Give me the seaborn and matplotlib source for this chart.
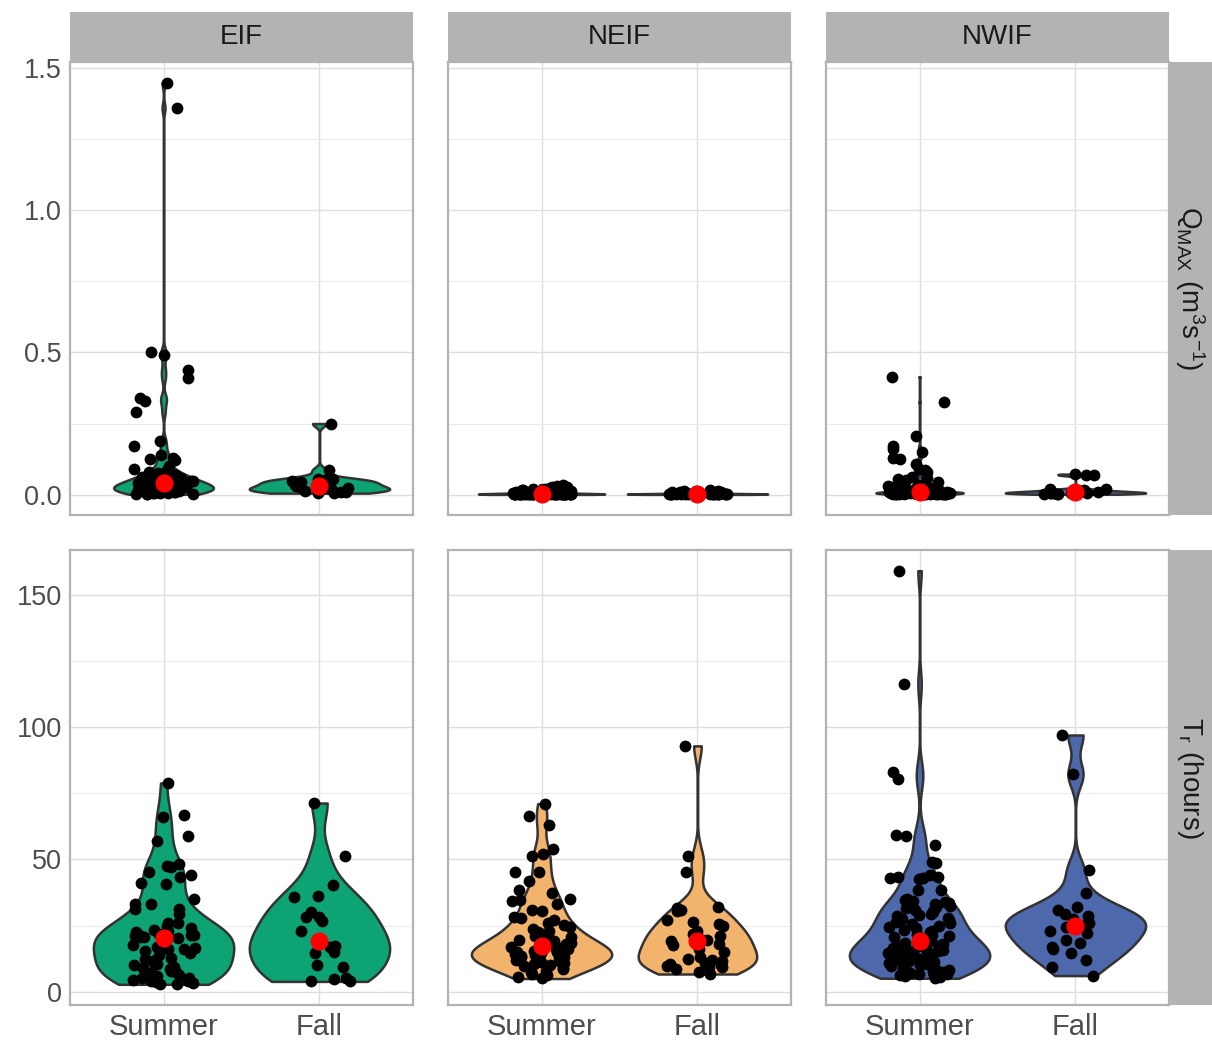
import numpy as np
import pandas as pd
import matplotlib.pyplot as plt
import seaborn as sns
from matplotlib.ticker import MultipleLocator, FormatStrFormatter

# ==========================================
# Data
# ==========================================
sites = ["EIF", "NEIF", "NWIF"]
seasons = ["Summer", "Fall"]
site_colors = ["#0DA375", "#F2B36D", "#4E68AC"]

# peak discharge Q_MAX (m3/s)
qmax_eif_summer = [1.45, 1.36, 0.50, 0.49, 0.44, 0.41, 0.34, 0.33, 0.29, 0.19, 0.17, 0.14,
                   0.13, 0.125, 0.12, 0.10, 0.09, 0.085, 0.08,
                   0.075, 0.07, 0.068, 0.065, 0.062, 0.06, 0.058, 0.055, 0.053, 0.05, 0.048,
                   0.046, 0.045, 0.043, 0.042, 0.04, 0.039,
                   0.037, 0.035, 0.034, 0.032, 0.031, 0.03, 0.028, 0.027, 0.026, 0.025, 0.024,
                   0.022, 0.021, 0.02, 0.019, 0.018, 0.017, 0.016, 0.015, 0.014, 0.013, 0.012,
                   0.011, 0.01, 0.009, 0.008, 0.007, 0.006, 0.005, 0.004, 0.003, 0.003, 0.002, 0.001]
qmax_eif_fall = [0.25, 0.085, 0.055, 0.055, 0.05, 0.048, 0.045, 0.043, 0.04, 0.035, 0.03,
                 0.027, 0.025, 0.022, 0.02, 0.018, 0.015, 0.012, 0.01, 0.008, 0.006, 0.005]
qmax_neif_summer = [0.035, 0.03, 0.028, 0.025, 0.022, 0.02, 0.018, 0.016, 0.015, 0.014, 0.013,
                    0.012, 0.011, 0.01, 0.01, 0.009, 0.009, 0.008, 0.008, 0.007, 0.007, 0.006,
                    0.006, 0.006, 0.005, 0.005, 0.005, 0.005, 0.004, 0.004, 0.004, 0.004, 0.004,
                    0.003, 0.003, 0.003, 0.003, 0.003, 0.003, 0.003, 0.003,
                    0.002, 0.002, 0.002, 0.002, 0.002, 0.002, 0.002, 0.002, 0.002, 0.002, 0.002, 0.002,
                    0.001, 0.001, 0.001, 0.001, 0.001, 0.001, 0.001, 0.001, 0.001, 0.001, 0.001, 0.001,
                    0.0005, 0.0005, 0.0005, 0.0005, 0.0005]
qmax_neif_fall = [0.015, 0.014, 0.012, 0.011, 0.01, 0.009, 0.008, 0.007, 0.006, 0.005, 0.005,
                  0.004, 0.004, 0.003, 0.003, 0.003, 0.003, 0.0025,
                  0.002, 0.002, 0.002, 0.002, 0.002, 0.002, 0.0015, 0.0015, 0.0015, 0.0015,
                  0.001, 0.001, 0.001, 0.001, 0.0005, 0.0005, 0.0005]
qmax_nwif_summer = [0.415, 0.325, 0.205, 0.17, 0.16, 0.15, 0.13, 0.126, 0.108, 0.09, 0.085,
                    0.079, 0.063, 0.06, 0.055, 0.05, 0.045, 0.04, 0.038, 0.035, 0.032, 0.03,
                    0.028, 0.026, 0.024, 0.022, 0.02, 0.019, 0.018, 0.017, 0.016, 0.015, 0.014,
                    0.013, 0.012, 0.012, 0.011, 0.011, 0.01, 0.01, 0.01, 0.01, 0.009, 0.009,
                    0.009, 0.009, 0.009, 0.008, 0.008, 0.008,
                    0.008, 0.008, 0.007, 0.007, 0.007, 0.007, 0.007, 0.007, 0.007, 0.007,
                    0.006, 0.006, 0.006, 0.006, 0.006, 0.006, 0.006, 0.006,
                    0.005, 0.005, 0.005, 0.005, 0.005, 0.005, 0.005, 0.005,
                    0.004, 0.004, 0.004, 0.004, 0.004, 0.004, 0.004, 0.004,
                    0.003, 0.003, 0.003, 0.003, 0.003, 0.003,
                    0.002, 0.002, 0.002, 0.002, 0.002,
                    0.001, 0.001, 0.001, 0.001, 0.001]
qmax_nwif_fall = [0.072, 0.07, 0.068, 0.02, 0.018, 0.015, 0.013, 0.012, 0.011, 0.01, 0.009,
                  0.008, 0.007, 0.006, 0.006, 0.005, 0.005, 0.004, 0.003, 0.003, 0.002, 0.001]

# rise time T_r (hours)
tr_eif_summer = [78.9, 66.9, 65.9, 58.8, 56.8, 48.2, 47.6, 47.0, 45.1, 44.1, 43.2, 41.0, 40.7,
                 35.0, 33.1, 33.1, 31.2, 31.2, 29.3, 26.1, 26.1, 25.0, 24.2, 23.5, 23.0, 22.4,
                 22.0, 21.7, 21.5, 21.4, 21.2, 21.0, 20.8, 20.6, 20.4, 20.2, 20.0,
                 17.9, 17.5, 17.0, 16.6, 16.0, 16.0, 15.4, 14.6, 13.8, 12.9, 12.5, 11.8, 11.0,
                 10.4, 10.0, 9.5, 9.0, 8.5, 8.0, 7.6, 7.0, 6.6, 6.2, 5.8, 5.3, 5.0, 4.6, 4.2,
                 3.9, 3.6, 3.3, 3.0, 2.8]
tr_eif_fall = [71.3, 51.1, 40.2, 36.0, 35.7, 30.0, 28.2, 28.2, 26.9, 23.1, 19.1, 19.1, 17.0,
               17.1, 15.2, 14.5, 10.1, 9.2, 4.2, 4.8, 3.9, 5.2]
tr_neif_summer = [71.1, 66.3, 62.9, 54.0, 52.1, 51.1, 45.1, 45.1, 42.0, 38.3, 37.3, 35.0, 34.6,
                  34.2, 33.3, 30.7, 30.5, 28.4, 28.0, 27.0, 26.0, 25.2, 24.5, 23.8, 23.0, 22.4,
                  21.8, 21.2, 20.6, 20.0, 19.5, 19.0, 18.5, 18.0, 17.3, 16.9,
                  16.5, 16.2, 16.0, 15.7, 15.5, 15.2, 15.0, 14.8, 14.5, 14.3, 14.0, 13.8, 13.6,
                  13.4, 13.2, 13.0, 12.7, 12.4, 12.1, 11.8, 11.5, 11.2, 10.8, 10.4, 10.0, 9.6,
                  9.1, 8.6, 8.0, 7.4, 6.8, 6.2, 5.6, 5.0]
tr_neif_fall = [92.9, 51.1, 45.1, 32.0, 31.5, 31.0, 30.5, 27.0, 26.5, 25.5, 25.0, 23.1, 22.0,
                21.0, 20.1, 19.8, 19.5, 19.3, 18.0, 17.5, 16.2, 15.0, 13.0, 12.5, 12.0, 11.5,
                11.0, 10.5, 10.0, 9.8, 9.5, 9.2, 8.5, 7.5, 6.7]
tr_nwif_summer = [159.1, 116.2, 83.1, 80.2, 59.1, 59.0, 55.3, 49.0, 48.8, 44.0, 43.5, 43.2,
                  43.0, 42.8, 42.5, 38.6, 38.4, 35.0, 34.6, 34.3, 34.0, 33.5, 33.0, 32.5, 32.0,
                  31.5, 31.0, 30.5, 30.0, 29.5, 29.0, 28.5, 28.0, 27.5, 27.0, 26.5, 26.0, 25.5,
                  25.0, 24.5, 24.0, 23.5, 23.0, 22.5, 22.0, 21.5, 21.0, 20.5, 20.0, 19.5,
                  18.8, 18.5, 18.2, 18.0, 17.7, 17.4, 17.1, 16.8, 16.5, 16.3, 16.0, 15.8, 15.5,
                  15.3, 15.0, 14.8, 14.5, 14.3, 14.0, 13.8, 13.5, 13.2, 13.0, 12.7, 12.4, 12.1,
                  11.8, 11.5, 11.2, 10.9, 10.6, 10.3, 10.0, 9.7, 9.4, 9.1, 8.8, 8.5, 8.2, 7.9,
                  7.6, 7.3, 7.0, 6.8, 6.6, 6.4, 6.2, 6.0, 5.6, 5.1]
tr_nwif_fall = [97.0, 82.1, 46.1, 37.2, 32.0, 31.0, 29.5, 28.5, 27.3, 26.0, 25.5, 24.5, 23.0,
                22.1, 19.5, 18.5, 17.0, 16.0, 14.5, 12.0, 9.2, 6.1]

row_labels = [r"$\mathregular{Q_{MAX}\ (m^{3}s^{-1})}$", r"$\mathregular{T_{r}\ (hours)}$"]
row_ticks = [[0, 0.5, 1.0, 1.5], [0, 50, 100, 150]]
row_minor = [0.25, 25]
row_fmt = ["%.1f", "%d"]

data = {
    0: {"EIF": {"Summer": qmax_eif_summer, "Fall": qmax_eif_fall},
        "NEIF": {"Summer": qmax_neif_summer, "Fall": qmax_neif_fall},
        "NWIF": {"Summer": qmax_nwif_summer, "Fall": qmax_nwif_fall}},
    1: {"EIF": {"Summer": tr_eif_summer, "Fall": tr_eif_fall},
        "NEIF": {"Summer": tr_neif_summer, "Fall": tr_neif_fall},
        "NWIF": {"Summer": tr_nwif_summer, "Fall": tr_nwif_fall}},
}

# violin widths as drawn in the original (style, not data)
violin_width = {
    (0, "EIF", "Summer"): 0.64, (0, "NEIF", "Summer"): 0.81,
    (0, "NWIF", "Summer"): 0.56, (1, "NEIF", "Fall"): 0.76,
}


def nrd0_factor(v):
    # R's default bandwidth, expressed as a factor of the std
    v = np.asarray(v, dtype=float)
    sd = v.std(ddof=1)
    q75, q25 = np.percentile(v, [75, 25])
    lo = min(sd, (q75 - q25) / 1.34)
    if lo <= 0:
        lo = sd
    return 0.9 * lo * len(v) ** -0.2 / sd


# ==========================================
# Style
# ==========================================
sns.set_theme(style="white")
plt.rcParams["font.family"] = ["Liberation Sans", "DejaVu Sans"]
np.random.seed(3)

W, H = 1212, 1040
fig = plt.figure(figsize=(W / 100, H / 100), dpi=100)

col_left = [70, 448, 826]
col_width = 343
row_top = [62, 550]
row_height = [453, 455]
border = "#B3B3B3"

for i in range(2):
    all_vals = np.concatenate([data[i][s][se] for s in sites for se in seasons])
    lo, hi = all_vals.min(), all_vals.max()
    pad = 0.05 * (hi - lo)
    ax0 = None
    for j, site in enumerate(sites):
        ax = fig.add_axes([col_left[j] / W, 1 - (row_top[i] + row_height[i]) / H,
                           col_width / W, row_height[i] / H], sharey=ax0)
        if ax0 is None:
            ax0 = ax
        for season in seasons:
            v = data[i][site][season]
            xs = [season] * len(v)
            sns.violinplot(x=xs, y=v, order=seasons, ax=ax, color=site_colors[j],
                           saturation=1, cut=0, inner=None, density_norm="width",
                           width=violin_width.get((i, site, season), 0.9),
                           gridsize=512, bw_method=nrd0_factor(v),
                           linewidth=1.8, linecolor="#333333")
            sns.stripplot(x=xs, y=v, order=seasons, ax=ax, color="black", size=8.5,
                          jitter=0.2, zorder=3)
            sns.pointplot(x=xs, y=v, order=seasons, ax=ax, estimator="median",
                          errorbar=None, color="red", markers="o", linestyle="none",
                          markersize=11, zorder=4)

        ax.set_xlim(-0.6, 1.6)
        ax.set_ylim(lo - pad, hi + pad)
        ax.set_xlabel("")
        ax.set_ylabel("")
        ax.set_yticks(row_ticks[i])
        ax.yaxis.set_minor_locator(MultipleLocator(row_minor[i]))
        ax.yaxis.set_major_formatter(FormatStrFormatter(row_fmt[i]))
        ax.set_axisbelow(True)
        ax.grid(True, which="major", color="#DEDEDE", linewidth=1.0)
        ax.grid(True, which="minor", axis="y", color="#EBEBEB", linewidth=0.7)
        ax.tick_params(axis="both", which="major", length=4, width=1, color=border,
                       labelsize=19.5, labelcolor="#4D4D4D", pad=2)
        ax.tick_params(axis="both", which="minor", length=0)
        ax.tick_params(axis="x", labelsize=21)
        for sp in ax.spines.values():
            sp.set_visible(True)
            sp.set_color(border)
            sp.set_linewidth(1.6)
        if j > 0:
            ax.tick_params(axis="y", left=False, labelleft=False)
        if i == 0:
            ax.tick_params(axis="x", bottom=False, labelbottom=False)

    # right strip
    sax = fig.add_axes([1168 / W, 1 - (row_top[i] + row_height[i]) / H,
                        (W - 1168) / W, row_height[i] / H])
    sax.set_facecolor(border)
    sax.set_xticks([])
    sax.set_yticks([])
    for sp in sax.spines.values():
        sp.set_visible(False)
    sax.text(0.5, 0.5, row_labels[i], rotation=-90, ha="center", va="center",
             fontsize=20, color="#1A1A1A", transform=sax.transAxes)

# top strips
for j, site in enumerate(sites):
    sax = fig.add_axes([col_left[j] / W, 1 - 62 / H, col_width / W, 50 / H])
    sax.set_facecolor(border)
    sax.set_xticks([])
    sax.set_yticks([])
    for sp in sax.spines.values():
        sp.set_visible(False)
    sax.text(0.5, 0.5, site, ha="center", va="center", fontsize=20,
             color="#1A1A1A", transform=sax.transAxes)

plt.savefig("out.png", dpi=100)
